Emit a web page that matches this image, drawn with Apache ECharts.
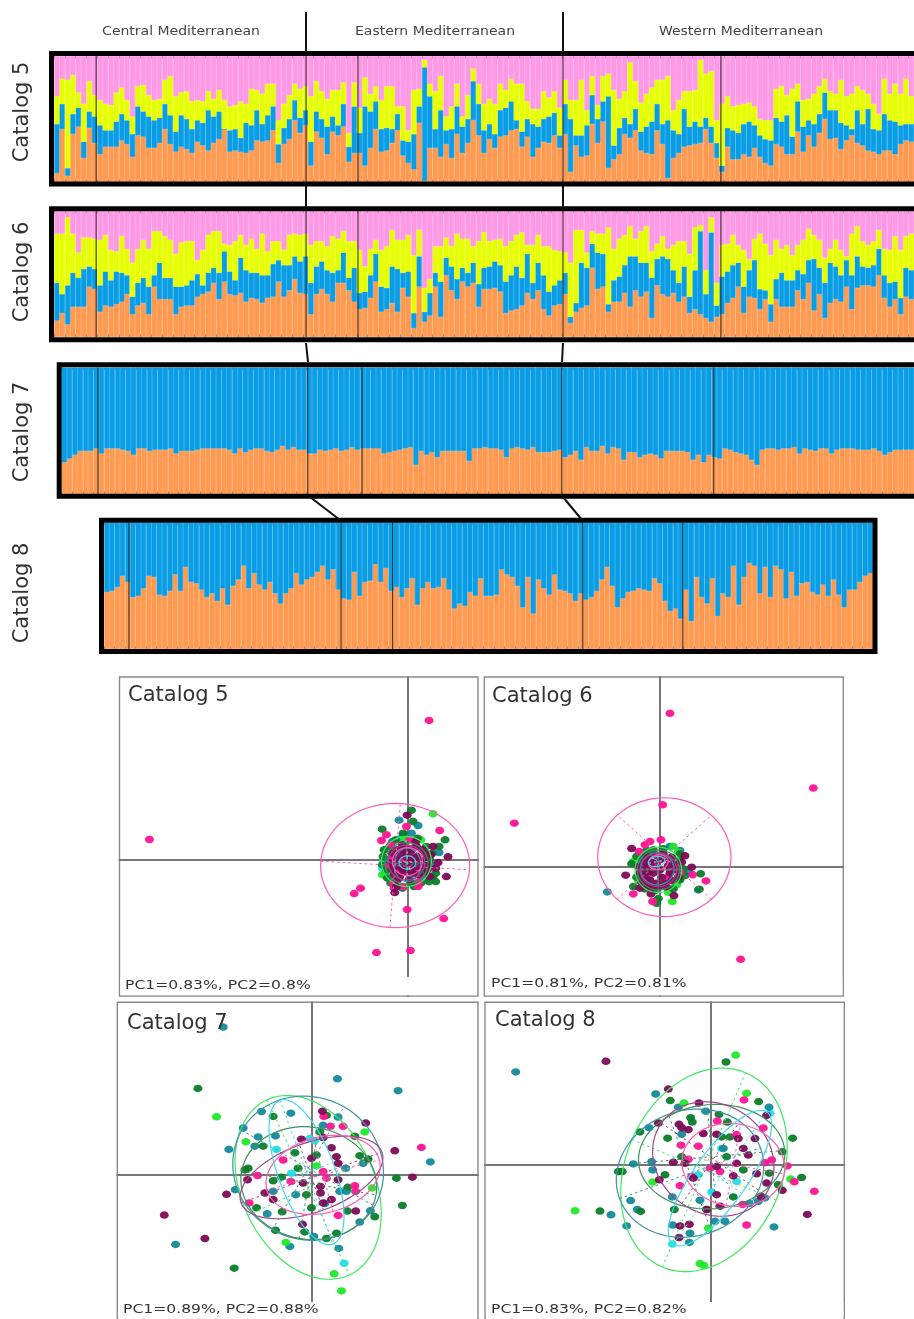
<!DOCTYPE html>
<html><head><meta charset="utf-8">
<style>html,body{margin:0;padding:0;background:#fff;overflow:hidden}#c{width:914px;height:1319px;filter:blur(.55px)}</style>
<script src="https://cdn.jsdelivr.net/npm/echarts@6/dist/echarts.min.js"></script>
</head><body><div id="c"></div>
<script>
// Structure plots: cumulative share (%) at the top of each colour
const orange5=[7,42,5,38,44,19,43,31,22,28,28,28,33,30,20,37,36,27,27,31,42,30,24,28,26,23,32,29,25,31,34,42,24,25,24,23,25,33,32,33,41,15,30,34,49,39,45,13,40,35,22,40,37,44,16,23,23,13,27,42,24,25,31,41,21,15,10,47,1,27,27,20,30,19,38,23,31,49,37,23,34,27,36,37,41,42,28,36,20,27,32,31,37,27,38,8,29,20,21,46,31,48,11,18,22,38,35,41,25,23,22,41,30,3,19,23,28,29,30,31,42,31,19,8,28,18,18,22,20,27,20,15,13,30,28,22,22,40,24,37,28,39,50,34,35,26,33,37,31,29,25,24,22,25,25,22,30,33,32];
const blue5=[46,62,11,54,59,32,56,52,45,41,41,48,54,49,38,60,56,52,49,51,62,53,40,53,50,42,49,47,57,52,56,42,41,42,35,47,45,57,46,53,60,30,43,50,65,51,57,32,56,50,44,52,45,62,28,60,39,60,56,64,42,43,42,54,33,32,38,60,91,68,42,57,41,42,60,44,50,80,62,41,46,38,57,59,64,49,40,50,46,44,50,52,55,37,62,50,37,37,45,69,50,64,68,29,43,51,46,58,40,44,48,62,46,49,41,38,58,44,48,44,51,44,31,13,43,41,39,46,48,45,37,34,33,51,48,53,36,64,44,49,46,54,71,57,57,47,45,42,57,46,58,42,41,54,49,48,45,46,46];
const yellow5=[68,82,81,85,71,62,80,69,65,62,61,71,75,65,52,76,77,69,65,66,81,84,68,71,72,64,65,64,72,66,73,65,60,61,64,62,74,73,70,78,78,49,62,69,78,74,76,68,80,72,66,73,73,79,39,79,59,83,70,76,65,76,76,60,60,41,73,74,97,78,72,84,52,60,78,52,69,90,78,62,66,62,78,73,82,78,78,64,58,58,72,67,72,59,81,65,65,81,57,84,61,84,86,73,66,72,95,80,63,70,75,81,81,84,57,65,72,72,73,97,86,88,49,62,68,60,61,62,63,60,50,49,49,74,76,69,74,78,65,66,70,76,82,72,70,81,68,70,76,73,70,62,54,82,70,78,70,82,68];
const orange6=[13,19,10,24,24,24,40,38,20,25,24,26,28,34,18,25,27,18,40,30,30,30,18,24,25,25,32,34,36,43,30,44,34,33,35,28,31,30,27,31,32,44,32,37,46,35,34,18,34,38,34,28,43,43,37,28,22,23,31,44,20,22,27,20,39,32,7,40,12,17,40,16,49,37,30,44,40,43,24,38,38,39,36,19,21,22,25,35,30,37,22,17,25,26,34,11,20,23,25,55,38,40,20,28,28,35,24,37,32,36,15,41,34,32,35,28,32,19,22,18,15,12,16,18,27,31,40,19,32,31,22,30,12,30,24,24,24,37,30,43,21,34,15,27,30,28,40,22,39,41,41,40,49,31,24,30,18,32,30];
const blue6=[43,34,41,51,47,54,56,54,41,52,45,52,51,49,32,43,47,40,49,59,47,47,40,40,41,45,50,41,51,55,51,68,52,45,63,53,51,51,49,49,58,61,57,57,64,60,64,43,56,60,53,51,53,67,47,55,35,36,49,66,40,39,56,54,51,52,19,64,20,35,51,44,63,56,46,55,51,59,42,55,56,60,57,44,49,56,47,66,43,59,49,36,41,45,51,16,27,59,55,74,67,66,26,45,48,57,64,64,59,59,47,62,64,62,53,43,56,32,53,84,34,83,25,48,52,57,59,40,53,61,38,37,26,46,51,45,45,53,50,61,62,55,43,59,56,49,61,49,64,56,55,57,70,49,43,44,31,55,53];
const yellow6=[82,82,95,82,67,79,79,78,77,81,69,68,80,70,59,70,77,70,84,84,80,77,66,75,76,76,61,69,81,84,84,74,73,76,81,73,78,70,82,68,76,76,69,81,82,81,82,73,76,76,72,80,78,84,76,76,69,56,70,77,69,72,85,77,77,81,65,85,39,46,72,72,79,72,82,78,78,72,76,83,76,77,78,72,76,81,83,73,73,81,72,72,69,68,67,59,85,85,67,84,82,82,87,70,78,81,88,78,84,88,68,74,80,70,73,76,76,66,87,89,53,95,43,73,74,81,73,69,62,78,82,74,65,77,70,73,65,73,77,86,81,77,63,70,77,69,64,82,88,76,73,76,85,70,69,80,69,80,82];
const orange7=[25,28,31,34,34,34,36,32,36,36,36,35,34,31,36,36,34,35,35,35,36,32,34,34,34,35,36,36,36,36,36,35,32,36,33,35,36,36,34,33,35,38,35,37,35,35,32,32,35,34,35,36,34,35,37,35,36,36,36,36,32,33,34,35,36,37,23,34,31,33,29,34,34,34,34,34,26,36,36,37,36,36,35,29,36,37,36,35,37,33,33,33,34,35,29,31,34,27,37,34,34,38,32,37,36,27,33,33,29,31,32,31,28,34,34,34,34,33,27,31,25,31,29,28,36,35,33,32,31,27,23,35,36,36,35,36,36,37,32,36,35,34,36,36,32,35,36,36,36,35,35,35,36,34,31,33,35,35,35,35];
const orange8=[45,46,49,58,53,41,42,48,58,57,43,42,46,59,46,65,53,52,47,41,44,38,48,35,50,55,66,48,60,51,47,53,44,36,44,48,60,51,55,57,61,66,55,63,47,40,39,61,42,53,54,67,53,64,46,49,41,48,56,35,48,53,48,49,56,47,32,36,34,45,42,56,42,42,43,63,59,57,50,33,57,28,55,48,43,59,47,46,44,38,44,39,41,46,55,65,50,33,40,45,46,48,47,46,56,52,38,30,32,24,47,22,57,41,36,56,26,44,41,66,35,57,68,66,44,65,41,66,63,40,61,42,52,53,45,43,51,42,55,43,33,47,47,53,58,60];
// Population boundaries, counted in bars from the left of each plot
const groups5=[7.8,46.6,56.2,94.1,123.3];
const groups6=[7.8,46.6,56.2,94.1,123.3];
const groups7=[6.85,46.2,56.4,93.9,122.4];
const groups8=[4.74,45,54.8,90.9,109.9];
const regionLabels=['Central Mediterranean','Eastern Mediterranean','Western Mediterranean'];
const catalogNames=['Catalog 5','Catalog 6','Catalog 7','Catalog 8'];
const pcaCaptions=['PC1=0.83%, PC2=0.8%','PC1=0.81%, PC2=0.81%','PC1=0.89%, PC2=0.88%','PC1=0.83%, PC2=0.82%'];

// PCA scores
const p5Pink=[[-775,61],[65,418],[97,88],[-160,-101],[-141,-85],[-1,-149],[109,-176],[-93,-278],[9,-272],[-78,58],[-45,10],[-33,-30],[-3,100],[7,60],[32,-80],[-43,-70],[-13,-80],[-63,75],[10,-10],[-25,-40],[-55,-15],[-20,-5],[15,35],[-50,45],[35,-65],[-40,-85],[20,-30]];
const p5Maroon=[[-1,134],[122,9],[117,-50],[-38,-98],[-33,-80],[-13,30],[27,40],[-13,-30],[7,0],[-33,0],[37,-20],[67,-50],[77,40],[92,-8],[-43,-30],[17,-40],[-23,-50],[52,0],[-3,10],[22,-20],[-20,15],[45,30],[-30,-60],[10,25],[60,-30],[-45,20],[-10,-15],[30,10],[55,20],[-25,-20],[0,30],[35,-45],[-50,-10],[15,-15],[70,15],[85,-25],[-15,45],[25,55],[-40,-45],[5,-60],[40,-5],[-5,-35],[60,-15],[-30,30],[20,5]];
const p5Green=[[12,149],[17,115],[-76,92],[113,60],[77,-50],[12,-70],[-73,10],[-13,80],[67,0],[-53,40],[47,-40],[-63,-30],[57,40],[40,-70],[-50,-70],[85,-40],[-75,-15],[-60,-55],[95,40],[30,65],[-35,60],[75,20],[-70,30],[65,-65],[20,-80],[-15,-85],[85,-65]];
const p5Lime=[[77,138],[-63,-35],[-75,-45],[40,60],[-10,65]];
const p5Teal=[[-25,119],[32,103],[95,22],[-13,75],[12,80],[-63,0],[70,-15],[-45,55],[50,-60]];
const p5Cyan=[[-68,-40],[12,-50],[-71,-5],[-75,-25],[15,-65],[-20,65],[-60,-50]];
const p6Pink=[[30,461],[460,237],[-437,132],[8,187],[242,-276],[3,82],[-30,77],[-45,67],[-62,47],[138,-41],[98,-23],[-80,-80],[-22,-103],[50,2],[30,-8],[-15,0],[25,-30],[60,-15],[-40,-35]];
const p6Maroon=[[-85,56],[75,34],[95,0],[-103,-24],[-60,-63],[-27,-80],[42,-85],[-40,-2],[-20,-18],[0,22],[20,27],[30,-18],[-30,-38],[15,-48],[-50,-28],[-10,-48],[-40,32],[50,-8],[0,-8],[-65,2],[-15,10],[25,5],[-35,-15],[-55,-45],[-35,-55],[5,-30],[35,-40],[55,-30],[-60,-15],[-25,15],[10,40],[40,10],[-5,-60],[65,15],[20,-60],[-45,15],[-10,35],[35,30],[-30,-60]];
const p6Green=[[-80,-58],[122,-20],[118,-66],[-5,-94],[-10,-108],[-85,10],[-20,52],[60,22],[-70,32],[60,-38],[-70,-30],[-40,50],[-50,40],[60,40],[70,-5],[40,-65],[-45,-65],[-15,-70],[75,-25],[10,55]];
const p6Lime=[[40,62],[37,-103],[-80,17],[50,-53],[55,45],[65,-30],[-65,-40],[25,-75]];
const p6Teal=[[-158,-74],[115,-68],[30,62],[85,-13],[-25,40],[60,50],[-60,20]];
const p6Cyan=[[35,62],[-60,2]];
const p7Pink=[[330,83],[95,147],[57,147],[37,177],[-162,-2],[-62,-20],[35,10],[45,-10],[130,-33],[133,-50],[80,-123],[-187,-85],[-85,45]];
const p7Maroon=[[-442,-122],[-320,-193],[-255,-59],[250,73],[303,-7],[163,157],[33,193],[35,113],[-30,108],[60,82],[75,55],[80,35],[0,50],[-25,-25],[27,-35],[27,-55],[80,-15],[-27,-150],[133,-110],[-140,-55],[-115,-75],[-192,-15],[60,-75],[35,-85]];
const p7Green=[[-341,262],[-232,-283],[273,-93],[255,-10],[190,-127],[108,-110],[45,180],[-115,177],[-145,87],[130,117],[170,48],[145,58],[-50,67],[15,60],[-40,20],[-190,20],[-200,15],[-115,-18],[-90,-7],[-165,-100],[-88,-112],[0,-100],[-20,-173],[-108,-168],[45,-193],[75,-177],[109,-38],[-15,-60],[25,130]];
const p7Lime=[[-285,176],[-197,100],[160,130],[182,-40],[-77,-205],[68,-300],[90,-352],[15,27]];
const p7Teal=[[-265,448],[78,291],[260,255],[357,39],[-408,-211],[-248,77],[-205,142],[-150,192],[-62,187],[80,175],[-160,115],[-108,118],[-229,-45],[-133,-118],[-65,-217],[82,-223],[145,-143],[177,-109],[7,-187],[103,20],[155,35],[85,-50],[105,-50],[-115,-50],[-47,-60],[40,-87],[35,150],[-170,87]];
const p7Cyan=[[98,-268],[-60,5],[-105,77],[-5,110],[10,103]];
const p8Pink=[[99,195],[157,110],[310,-82],[250,-53],[229,-5],[107,-184],[95,-122],[-90,58],[-38,55],[-68,15],[-93,-65],[19,131],[77,90],[182,13],[162,5],[27,-22],[-3,-12],[-58,-37]];
const p8Maroon=[[-315,312],[-128,228],[-36,186],[289,-152],[214,-79],[167,148],[-158,125],[-96,121],[-88,111],[-68,105],[-93,-187],[-65,-182],[-96,-222],[17,-92],[-13,-137],[-155,-47],[-113,6],[-78,3],[-23,93],[17,91],[82,78],[132,78],[97,48],[112,28],[77,3],[17,-7],[137,-29],[67,-35],[167,-57],[150,-97],[27,-127],[-53,-42]];
const p8Green=[[45,310],[-122,193],[143,190],[245,79],[272,-40],[214,38],[202,-62],[175,-27],[-130,79],[-213,98],[-278,-22],[-266,-22],[-333,-142],[-211,-143],[-110,-137],[-61,141],[-56,128],[24,151],[49,128],[32,83],[57,83],[97,-17],[47,23],[-88,23],[-138,-32],[67,-99],[-13,-137]];
const p8Lime=[[74,331],[107,215],[-81,186],[-408,-141],[-175,-54],[-8,-194],[-33,-301],[-21,-307],[239,-45]];
const p8Teal=[[-586,280],[-166,213],[174,173],[-16,161],[-98,173],[-186,111],[-88,91],[-233,1],[-178,8],[-175,-17],[-116,-99],[-241,-110],[-221,-137],[-300,-153],[-253,-187],[-115,-184],[-63,-209],[-65,-237],[42,-173],[12,-173],[189,-190],[-33,-109],[115,-119],[142,-112],[162,-102],[37,48]];
const p8Cyan=[[-116,-242],[2,-84],[-38,-32],[77,-52],[32,48],[177,155]];
// Ellipses: centre x, centre y, semi-axis a, semi-axis b, tilt (deg), colour index, tilt of the dashed axes (deg)
const ell5=[[-37,-17,224,186,0,0,-4],[-3,-5,75,75,0,3,0],[-3,-10,65,62,0,2,0],[0,-15,40,50,0,4,0],[-3,-8,55,52,0,1,0],[0,-5,45,42,0,0,0],[0,-8,25,20,0,5,0]];
const ell6=[[13,30,200,178,0,0,45],[-5,-8,70,68,0,3,0],[-5,-8,63,60,0,2,0],[-8,-5,50,48,0,4,0],[-5,-8,55,50,0,1,0],[-5,15,30,22,10,0,0],[-10,17,25,15,10,5,0]];
const ell7=[[-10,-38,293,200,-65,3,0],[-10,20,230,215,-30,4,0],[-8,-25,205,170,-10,2,0],[0,-8,225,105,20,1,0],[35,0,175,115,15,0,0],[-15,8,232,85,-70,5,0]];
const ell8=[[-21,-17,320,235,67,3,0],[-63,-27,225,190,20,4,0],[2,23,220,158,5,2,0],[7,16,190,165,-35,1,0],[67,-2,155,125,-10,0,0],[27,-42,245,80,55,5,0]];

const shareColors=['#ff9a50','#099de6','#e6ff00','#ff99e6'];
const dotColors=['#ff1493','#7c0a55','#0b7d2a','#1fe928','#138a9b','#1fdfe8'];
const ringColors=['#ff5cb4','#a0478c','#3f8f5a','#3fe860','#3f93a6','#3fd9ec'];

const sub=(a,b)=>a.map((v,i)=>+(v-b[i]).toFixed(1));
const grids=[],xAxes=[],yAxes=[],series=[];
function barPanel(box,layers,seps){
  const g=grids.length,n=layers[0].length;
  grids.push(Object.assign({show:false},box));
  const xi=xAxes.length;
  xAxes.push({gridIndex:g,type:'category',data:layers[0].map((_,i)=>i+1),z:5,silent:true,
    axisLine:{show:false},axisLabel:{show:false},
    axisTick:{show:true,inside:true,length:2.5,interval:1,alignWithLabel:false,lineStyle:{color:'rgba(90,50,40,.4)',width:1}}});
  xAxes.push({gridIndex:g,type:'value',position:'top',min:0,max:n,interval:2,z:5,silent:true,
    axisLine:{show:false},axisLabel:{show:false},
    splitLine:{show:true,lineStyle:{color:'rgba(255,255,255,.17)',width:1}},
    axisTick:{show:true,inside:true,length:2.5,lineStyle:{color:'rgba(110,50,100,.35)',width:1}}});
  const yi=yAxes.length;
  yAxes.push({gridIndex:g,type:'value',min:0,max:100,show:false});
  layers.forEach((d,k)=>series.push({type:'bar',xAxisIndex:xi,yAxisIndex:yi,stack:'s'+g,data:d,
    barCategoryGap:0,itemStyle:{color:shareColors[k],borderColor:shareColors[k],borderWidth:.7},silent:true}));
  series.push({type:'custom',coordinateSystem:'cartesian2d',xAxisIndex:xi+1,yAxisIndex:yi,z:6,silent:true,
    data:seps.map(v=>[v,0]),encode:{x:0,y:1},
    renderItem:(p,api)=>{const a=api.coord([api.value(0),0]),b=api.coord([api.value(0),100]);
      return {type:'line',shape:{x1:a[0],y1:a[1],x2:b[0],y2:b[1]},style:{stroke:'rgba(40,40,40,.85)',lineWidth:1.2}};}});
}
function ringItem(p,api){
  const cx=api.value(0),cy=api.value(1),a=api.value(2),b=api.value(3),t=api.value(4)*Math.PI/180,col=ringColors[api.value(5)],d=api.value(6)*Math.PI/180;
  const pt=(u,v)=>api.coord([cx+u*Math.cos(t)-v*Math.sin(t),cy+u*Math.sin(t)+v*Math.cos(t)]);
  const rim=w=>pt(a*Math.cos(w),b*Math.sin(w));
  const pts=[];for(let k=0;k<=72;k++)pts.push(rim(k/72*2*Math.PI));
  const dash=(s,e)=>({type:'line',shape:{x1:s[0],y1:s[1],x2:e[0],y2:e[1]},style:{stroke:col,lineWidth:1,lineDash:[2.5,3],fill:null}});
  return {type:'group',children:[
    {type:'polyline',shape:{points:pts},style:{stroke:col,lineWidth:1.2,fill:null}},
    dash(rim(d+Math.PI),rim(d)),dash(rim(d-Math.PI/2),rim(d+Math.PI/2))]};
}
function pcaPanel(box,xr,yr,layers,rings){
  const g=grids.length;
  grids.push(Object.assign({show:true,borderColor:'#8a8a8a',borderWidth:1.4,backgroundColor:'transparent'},box));
  const xi=xAxes.length,yi=yAxes.length;
  const line={show:true,onZero:true,lineStyle:{color:'#777',width:2}};
  xAxes.push({gridIndex:g,type:'value',min:xr[0],max:xr[1],axisLine:line,axisTick:{show:false},axisLabel:{show:false},splitLine:{show:false}});
  yAxes.push({gridIndex:g,type:'value',min:yr[0],max:yr[1],axisLine:line,axisTick:{show:false},axisLabel:{show:false},splitLine:{show:false}});
  [5,4,3,2,0,1].forEach(k=>series.push({type:'scatter',xAxisIndex:xi,yAxisIndex:yi,data:layers[k],symbol:'circle',symbolSize:[9,7.5],
    itemStyle:{color:dotColors[k],opacity:.95},silent:true,z:3}));
  series.push({type:'custom',coordinateSystem:'cartesian2d',xAxisIndex:xi,yAxisIndex:yi,data:rings,renderItem:ringItem,z:4,silent:true,encode:{x:0,y:1}});
}
barPanel({left:54,top:56,width:860,height:126},[orange5,sub(blue5,orange5),sub(yellow5,blue5),yellow5.map(v=>100-v)],groups5);
barPanel({left:54,top:211,width:860,height:126},[orange6,sub(blue6,orange6),sub(yellow6,blue6),yellow6.map(v=>100-v)],groups6);
barPanel({left:61.5,top:367.5,width:852.5,height:126.5},[orange7,orange7.map(v=>100-v)],groups7);
barPanel({left:104,top:522.7,width:769,height:126.3},[orange8,orange8.map(v=>100-v)],groups8);
pcaPanel({left:119.5,top:677,width:358.5,height:319},[-865,212],[-408,548],[p5Pink,p5Maroon,p5Green,p5Lime,p5Teal,p5Cyan],ell5);
pcaPanel({left:484.3,top:677,width:359,height:319},[-527,550],[-386,570],[p6Pink,p6Maroon,p6Green,p6Lime,p6Teal,p6Cyan],ell6);
pcaPanel({left:117.3,top:1002.3,width:360.7,height:320},[-583,500],[-437,523],[p7Pink,p7Maroon,p7Green,p7Lime,p7Teal,p7Cyan],ell7);
pcaPanel({left:485,top:1002.3,width:359.3,height:320},[-678,400],[-469,491],[p8Pink,p8Maroon,p8Green,p8Lime,p8Teal,p8Cyan],ell8);

const F='"DejaVu Sans"';
const frame=(x,y,w,h)=>({type:'rect',z:100,silent:true,shape:{x,y,width:w,height:h},style:{fill:null,stroke:'#000',lineWidth:5}});
const link=(a,b)=>({type:'polyline',z:101,silent:true,shape:{points:[a,b]},style:{stroke:'#111',lineWidth:2,fill:null}});
const txt=(text,x,y,size,opt)=>Object.assign({type:'text',z:110,silent:true,x,y,style:{text,fill:'#333',font:size+'px '+F,textAlign:'left',textVerticalAlign:'middle'}},opt||{});
const strip=(x,y,w,h)=>({type:'rect',z:90,silent:true,shape:{x,y,width:w,height:h},style:{fill:'#fff'}});
const graphic=[
  frame(51.5,53.5,900,130.5),frame(51.5,208.8,900,131),frame(59.2,364.8,900,131.5),frame(101.5,520.2,773.5,131.3),
  link([306,12],[306,52]),link([563,12],[563,52]),link([306,186],[306,207]),link([563,186],[563,207]),
  link([306,343],[308,362]),link([563,343],[562,362]),link([310,497],[340,520]),link([563,497],[582,520]),
  strip(120.5,977,356.5,18.2),strip(485.3,977,357,18.2),strip(118.3,1302,358.7,17),strip(486,1302,357.3,17),
];
[181,435,741].forEach((x,i)=>{const t=txt(regionLabels[i],x,32,12.5,{scaleX:1.12});t.style.textAlign='center';t.style.fill='#444';graphic.push(t);});
[112,272,432,593].forEach((y,i)=>{const t=txt(catalogNames[i],23,y,21,{rotation:Math.PI/2});t.style.textAlign='center';graphic.push(t);});
[[128,696],[492,697],[127,1024],[495,1021]].forEach((p,i)=>graphic.push(txt(catalogNames[i],p[0],p[1],21)));
[[125,986],[491,984],[123,1310],[491,1310]].forEach((p,i)=>graphic.push(txt(pcaCaptions[i],p[0],p[1],13,{scaleX:1.2})));

const chart=echarts.init(document.getElementById('c'),null,{renderer:'canvas'});
chart.setOption({animation:false,backgroundColor:'#fff',tooltip:{show:false},grid:grids,xAxis:xAxes,yAxis:yAxes,series,graphic});
</script></body></html>
